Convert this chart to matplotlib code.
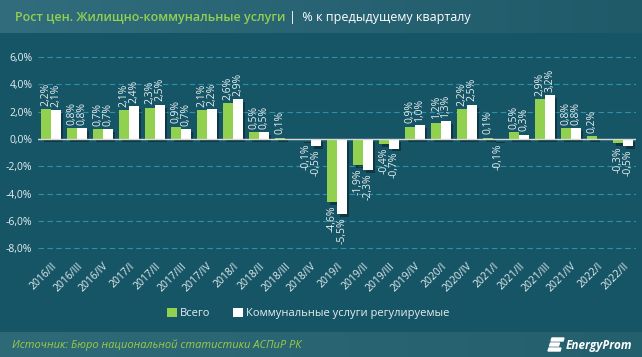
import numpy as np
import matplotlib
matplotlib.use("Agg")
import matplotlib.pyplot as plt
import matplotlib.patheffects as pe
from matplotlib.patches import Patch, Polygon
from matplotlib.colors import LinearSegmentedColormap

# quarters and values (% to previous quarter)
QUARTERS = ["2016/II", "2016/III", "2016/IV", "2017/I", "2017/II", "2017/III",
            "2017/IV", "2018/I", "2018/II", "2018/III", "2018/IV", "2019/I",
            "2019/II", "2019/III", "2019/IV", "2020/I", "2020/IV", "2021/I",
            "2021/II", "2021/III", "2021/IV", "2022/I", "2022/II"]
TOTAL = [2.2, 0.8, 0.7, 2.1, 2.3, 0.9, 2.1, 2.6, 0.5, 0.1, -0.1, -4.6,
         -1.9, -0.4, 0.9, 1.2, 2.2, 0.1, 0.5, 2.9, 0.8, 0.2, -0.3]
UTILITIES = [2.1, 0.8, 0.7, 2.4, 2.5, 0.7, 2.2, 2.9, 0.5, np.nan, -0.5, -5.5,
             -2.3, -0.7, 1.0, 1.3, 2.5, -0.1, 0.3, 3.2, 0.8, np.nan, -0.5]

BG = "#165566"
GREEN = "#92d050"
TXT = "#e6eef0"
W, H = 642, 357

plt.rcParams["font.family"] = ["Open Sans", "DejaVu Sans"]


def fmt(v):
    return ("%.1f%%" % v).replace(".", ",")


def draw_labels(ax, xs, vals):
    for x, v in zip(xs, vals):
        if np.isnan(v):
            continue
        off = 0.25 if v >= 0 else -0.25
        ax.text(x, v + off, fmt(v), rotation=90, fontsize=7.5, color=TXT,
                ha="center", va="bottom" if v >= 0 else "top")


def band(fig, y0, h, c_left, c_right):
    # horizontal gradient strip (header / footer)
    bax = fig.add_axes([0, y0, 1, h], zorder=0)
    cmap = LinearSegmentedColormap.from_list("band", [c_left, c_right])
    bax.imshow(np.linspace(0, 1, 256)[None, :], aspect="auto", cmap=cmap, extent=(0, 1, 0, 1))
    bax.axis("off")


def main():
    fig = plt.figure(figsize=(W / 100, H / 100), dpi=100, facecolor=BG)

    band(fig, 1 - 33 / H, 33 / H, "#316d7d", "#1f5a69")
    band(fig, 0, 25 / H, "#2f6a78", "#245f6d")

    ax = fig.add_axes([38 / W, 0.2857, 598 / W, 0.5927])
    ax.set_facecolor(BG)
    x = np.arange(len(QUARTERS))
    w = 0.36
    shadow = [pe.SimplePatchShadow(offset=(2, -2), shadow_rgbFace="black", alpha=0.35), pe.Normal()]
    b1 = ax.bar(x - 0.19, TOTAL, w, color=GREEN, zorder=3)
    b2 = ax.bar(x + 0.19, np.nan_to_num(UTILITIES), w, color="white", zorder=3)
    for b in list(b1) + list(b2):
        b.set_path_effects(shadow)
    draw_labels(ax, x - 0.19, TOTAL)
    draw_labels(ax, x + 0.19, UTILITIES)

    ax.set_xlim(-0.5, len(QUARTERS) - 0.5)
    ax.set_ylim(-8.5, 7)
    ax.set_yticks([-8, -6, -4, -2, 0, 2, 4, 6])
    ax.set_yticklabels([fmt(v) for v in [-8, -6, -4, -2, 0, 2, 4, 6]], fontsize=7.5, color=TXT)
    ax.yaxis.grid(True, color="#2b8fae", linestyle=(0, (5, 3)), linewidth=0.8, zorder=0)
    ax.axhline(0, color="#d8d8d8", linewidth=1, zorder=4)
    ax.set_xticks(x)
    ax.set_xticklabels(QUARTERS, rotation=45, ha="right", rotation_mode="anchor",
                       fontsize=7.5, color=TXT)
    ax.tick_params(length=0, pad=4)
    for s in ax.spines.values():
        s.set_visible(False)

    # legend
    handles = [Patch(facecolor=GREEN, label="Всего"),
               Patch(facecolor="white", label="Коммунальные услуги регулируемые")]
    leg = fig.legend(handles=handles, loc="center", bbox_to_anchor=(0.48, 0.122), ncol=2,
                     frameon=False, fontsize=8, handlelength=0.9, handleheight=0.9,
                     handletextpad=0.3, columnspacing=2.0)
    for t in leg.get_texts():
        t.set_color(TXT)

    # title
    t1 = fig.text(15 / W, 1 - 17 / H, "Рост цен. Жилищно-коммунальные услуги", color=GREEN,
                  fontsize=9, fontweight="semibold", va="center")
    fig.canvas.draw()
    bb = t1.get_window_extent()
    fig.text(bb.x1 / W + 0.005, 1 - 17 / H, "|  % к предыдущему кварталу", color="white",
             fontsize=9, va="center")

    # footer
    fig.text(12 / W, 12 / H, "Источник: Бюро национальной статистики АСПиР РК",
             color="#9acb47", fontsize=8, style="italic", va="center")
    fig.text(0.985, 12 / H, "EnergyProm", color="white", fontsize=8.5, style="italic",
             fontweight="bold", ha="right", va="center")
    # small logo mark left of the brand name (pixel coords, y from top)
    for wd, ytop in [(12, 338), (9, 343), (12, 348)]:
        x0 = 548 + (348 - ytop) * 0.3
        pts = [(x0 + 1, ytop), (x0 + 1 + wd, ytop), (x0 + wd, ytop + 3), (x0, ytop + 3)]
        fig.add_artist(Polygon([(px / W, 1 - py / H) for px, py in pts], closed=True,
                               transform=fig.transFigure, color="white"))

    plt.savefig("out.png", dpi=100, facecolor=BG)


if __name__ == "__main__":
    main()
